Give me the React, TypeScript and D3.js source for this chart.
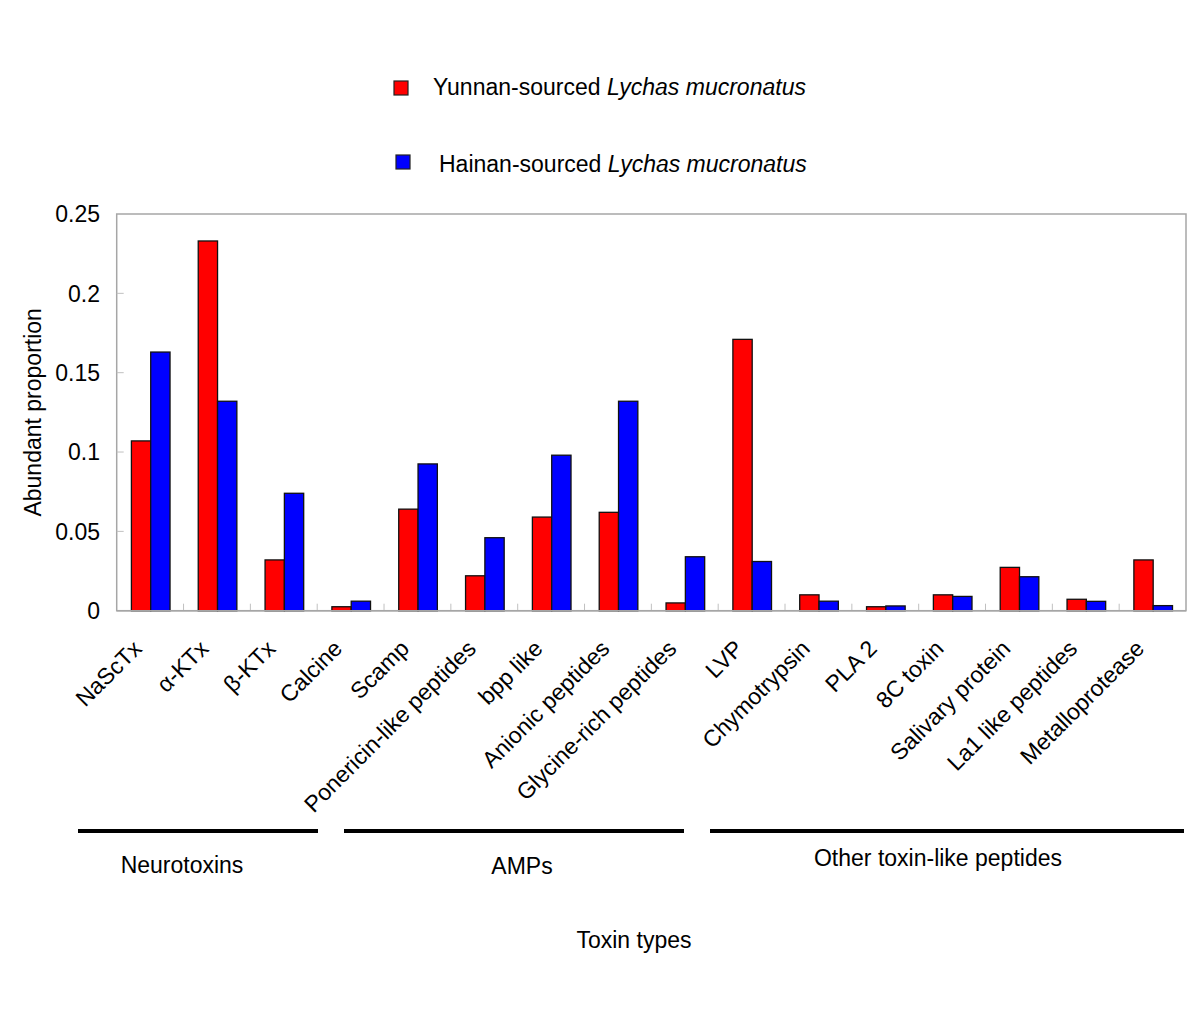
import React, { useEffect, useRef } from "react";
import * as d3 from "d3";

const categories = [
  "NaScTx", "α-KTx", "β-KTx", "Calcine", "Scamp", "Ponericin-like peptides",
  "bpp like", "Anionic peptides", "Glycine-rich peptides", "LVP", "Chymotrypsin",
  "PLA 2", "8C toxin", "Salivary protein", "La1 like peptides", "Metalloprotease",
];
const yunnan = [0.107, 0.233, 0.032, 0.0025, 0.064, 0.022, 0.059, 0.062, 0.0049, 0.171, 0.010, 0.0025, 0.010, 0.0273, 0.0072, 0.032];
const hainan = [0.163, 0.132, 0.074, 0.006, 0.0925, 0.046, 0.098, 0.132, 0.034, 0.031, 0.006, 0.003, 0.009, 0.0214, 0.0059, 0.0032];
const yTicks = [0, 0.05, 0.1, 0.15, 0.2, 0.25];
const groups = [
  { name: "Neurotoxins", from: 0, to: 3 },
  { name: "AMPs", from: 4, to: 8 },
  { name: "Other toxin-like peptides", from: 9, to: 15 },
];

const W = 1200, H = 1013;
const left = 116.7, right = 1186, top = 214, bottom = 610.7;
const FONT = "'Liberation Sans', Arial, sans-serif";
const FS = 23;

export default function App() {
  const ref = useRef<SVGSVGElement>(null);
  useEffect(() => {
    const svg = d3.select(ref.current);
    svg.selectAll("*").remove();
    const x = d3.scaleBand<string>().domain(categories).range([left, right]);
    const y = d3.scaleLinear().domain([0, 0.25]).range([bottom, top]);
    const bw = x.bandwidth();
    const barW = bw * 0.289;
    const off = (bw - 2 * barW) / 2 + 0.6;

    // frame
    svg.append("rect").attr("x", left).attr("y", top).attr("width", right - left).attr("height", bottom - top)
      .attr("fill", "none").attr("stroke", "#a6a6a6").attr("stroke-width", 1.5);

    // y ticks
    const yg = svg.append("g");
    yTicks.forEach((t) => {
      if (t > 0 && t < 0.25) {
        yg.append("line").attr("x1", left).attr("x2", left + 7).attr("y1", y(t)).attr("y2", y(t))
          .attr("stroke", "#c0c0c0").attr("stroke-width", 1);
      }
      yg.append("text").attr("x", 100).attr("y", y(t)).attr("dy", "0.36em").attr("text-anchor", "end")
        .attr("font-family", FONT).attr("font-size", FS).text(String(t));
    });
    // x ticks at boundaries
    categories.forEach((c, i) => {
      if (i === 0) return;
      const xx = x(c)!;
      svg.append("line").attr("x1", xx).attr("x2", xx).attr("y1", bottom).attr("y2", bottom - 7)
        .attr("stroke", "#c0c0c0").attr("stroke-width", 1);
    });

    // bars
    const series = [
      { vals: yunnan, color: "#ff0000", k: 0 },
      { vals: hainan, color: "#0000ff", k: 1 },
    ];
    series.forEach((s) => {
      svg.append("g").selectAll("rect").data(categories).join("rect")
        .attr("x", (c) => x(c)! + off + s.k * barW)
        .attr("y", (_c, i) => y(s.vals[i]))
        .attr("width", barW)
        .attr("height", (_c, i) => bottom - y(s.vals[i]))
        .attr("fill", s.color).attr("stroke", "#111").attr("stroke-width", 1.3);
    });
    svg.append("line").attr("x1", left).attr("x2", right).attr("y1", bottom).attr("y2", bottom)
      .attr("stroke", "#a6a6a6").attr("stroke-width", 1.5);

    // x labels
    categories.forEach((c) => {
      const cx = x(c)! + bw / 2 - 7;
      svg.append("text").attr("transform", `translate(${cx},650) rotate(-45)`)
        .attr("text-anchor", "end").attr("font-family", FONT).attr("font-size", FS).text(c);
    });

    // y title
    svg.append("text").attr("transform", `translate(41,${(top + bottom) / 2}) rotate(-90)`)
      .attr("text-anchor", "middle").attr("font-family", FONT).attr("font-size", FS).text("Abundant proportion");

    // groups
    const gx0 = [78, 344, 710];
    const gx1 = [318, 684, 1184];
    const gly = [873, 874, 866];
    const glx = [182, 522, 938];
    groups.forEach((g, i) => {
      svg.append("line").attr("x1", gx0[i]).attr("x2", gx1[i]).attr("y1", 831).attr("y2", 831)
        .attr("stroke", "#000").attr("stroke-width", 4);
      svg.append("text").attr("x", glx[i]).attr("y", gly[i]).attr("text-anchor", "middle")
        .attr("font-family", FONT).attr("font-size", FS).text(g.name);
    });
    svg.append("text").attr("x", 634).attr("y", 948).attr("text-anchor", "middle")
      .attr("font-family", FONT).attr("font-size", FS).text("Toxin types");

    // legend
    const leg = [
      { color: "#ff0000", label: "Yunnan-sourced ", sx: 394, sy: 81, tx: 433, ty: 95 },
      { color: "#0000ff", label: "Hainan-sourced ", sx: 396, sy: 155, tx: 439, ty: 172 },
    ];
    leg.forEach((l) => {
      svg.append("rect").attr("x", l.sx).attr("y", l.sy).attr("width", 14).attr("height", 14)
        .attr("fill", l.color).attr("stroke", "#222").attr("stroke-width", 1.2);
      const t = svg.append("text").attr("x", l.tx).attr("y", l.ty).attr("font-family", FONT).attr("font-size", FS);
      t.append("tspan").text(l.label);
      t.append("tspan").attr("font-style", "italic").text("Lychas mucronatus");
    });
  }, []);
  return (
    <svg ref={ref} width={W} height={H} style={{ position: "absolute", left: 0, top: 0, background: "#fff" }} />
  );
}
